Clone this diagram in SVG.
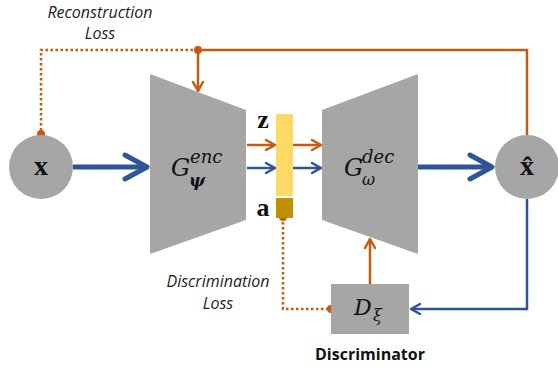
<svg xmlns="http://www.w3.org/2000/svg" width="558" height="371" viewBox="0 0 558 371">
<style>
.shape{fill:#A6A6A6;}
.ob{stroke:#C55A11;stroke-width:2.5;fill:none;}
.dot{stroke:#C55A11;stroke-width:2.5;fill:none;stroke-dasharray:2.5 2.5;}
.bl{stroke:#2F5597;stroke-width:2.5;fill:none;}
.blt{stroke:#2F5597;stroke-width:5;fill:none;}
.lbl{font-family:"Open Sans","Liberation Sans",sans-serif;font-style:italic;font-size:16px;fill:#222;text-anchor:middle;}
.bold{font-family:"Open Sans","Liberation Sans",sans-serif;font-weight:bold;font-size:16px;fill:#111;text-anchor:middle;}
.math{font-family:"DejaVu Serif","Liberation Serif",serif;font-style:italic;fill:#111;}
.var{font-family:"Liberation Serif","DejaVu Serif",serif;font-weight:bold;fill:#111;text-anchor:middle;}
</style>
<defs>
<marker id="ahT" markerUnits="userSpaceOnUse" markerWidth="30" markerHeight="30" refX="25" refY="14" orient="auto" overflow="visible">
<path d="M3,2 L25,14 L3,26" fill="none" stroke="#2F5597" stroke-width="5" stroke-linecap="round" stroke-linejoin="round"/>
</marker>
<marker id="ahB" markerUnits="userSpaceOnUse" markerWidth="14" markerHeight="14" refX="11" refY="7" orient="auto" overflow="visible">
<path d="M2,2 L11,7 L2,12" fill="none" stroke="#2F5597" stroke-width="2.5" stroke-linecap="round" stroke-linejoin="round"/>
</marker>
<marker id="ahO" markerUnits="userSpaceOnUse" markerWidth="14" markerHeight="14" refX="11" refY="7" orient="auto" overflow="visible">
<path d="M2,2 L11,7 L2,12" fill="none" stroke="#C55A11" stroke-width="2.5" stroke-linecap="round" stroke-linejoin="round"/>
</marker>
</defs>

<g id="connectors">
<line class="blt" x1="73" y1="167" x2="147" y2="167" marker-end="url(#ahT)"/>
<line class="blt" x1="418" y1="167" x2="492" y2="167" marker-end="url(#ahT)"/>
<line class="ob" x1="247" y1="145" x2="275" y2="145" marker-end="url(#ahO)"/>
<line class="bl" x1="247" y1="168" x2="275" y2="168" marker-end="url(#ahB)"/>
<line class="ob" x1="293" y1="145" x2="321" y2="145" marker-end="url(#ahO)"/>
<line class="bl" x1="293" y1="168" x2="321" y2="168" marker-end="url(#ahB)"/>
<polyline class="ob" points="527,135 527,50 198,50"/>
<line class="ob" x1="198" y1="50" x2="198" y2="91" marker-end="url(#ahO)"/>
<polyline class="dot" points="198,50 41,50 41,134"/>
<circle cx="198" cy="50" r="4" fill="#C55A11"/>
<circle cx="41" cy="134" r="4" fill="#C55A11"/>
<polyline class="dot" points="283,217 283,309 331,309"/>
<circle cx="283" cy="217" r="4" fill="#C55A11"/>
<circle cx="331" cy="309" r="4" fill="#C55A11"/>
<line class="ob" x1="370" y1="284" x2="370" y2="239" marker-end="url(#ahO)"/>
<polyline class="bl" points="527,199 527,309 411,309" marker-end="url(#ahB)"/>
</g>

<g id="x">
<circle class="shape" cx="41" cy="167" r="32"/>
<text class="var" x="41" y="175" font-size="28">x</text>
</g>

<g id="encoder">
<polygon class="shape" points="150,74 246,110 246,220 150,254"/>
<text class="math" x="171" y="176" font-size="24">G</text>
<text class="math" x="190" y="163" font-size="18">enc</text>
<text class="math" x="189" y="186" font-size="17" font-weight="bold">ψ</text>
</g>

<g id="latent">
<rect x="276" y="114" width="17" height="82" fill="#FFD966"/>
<rect x="276" y="198" width="17" height="20" fill="#BF9000"/>
<text class="var" x="263" y="128" font-size="26">z</text>
<text class="var" x="263" y="216" font-size="26">a</text>
</g>

<g id="decoder">
<polygon class="shape" points="322,110 418,74 418,254 322,220"/>
<text class="math" x="344" y="176" font-size="24">G</text>
<text class="math" x="362" y="163" font-size="18">dec</text>
<text class="math" x="362" y="185" font-size="16">ω</text>
</g>

<g id="xhat">
<circle class="shape" cx="527" cy="167" r="32"/>
<text class="var" x="527" y="175" font-size="28">x̂</text>
</g>

<g id="discriminator">
<rect class="shape" x="331" y="284" width="78" height="50"/>
<text class="math" x="354" y="315" font-size="22">D</text>
<text class="math" x="373" y="321" font-size="16">ξ</text>
<text class="bold" x="370" y="360">Discriminator</text>
</g>

<g id="labels">
<text class="lbl" x="100" y="18">Reconstruction</text>
<text class="lbl" x="100" y="39">Loss</text>
<text class="lbl" x="218" y="287">Discrimination</text>
<text class="lbl" x="218" y="309">Loss</text>
</g>
</svg>
